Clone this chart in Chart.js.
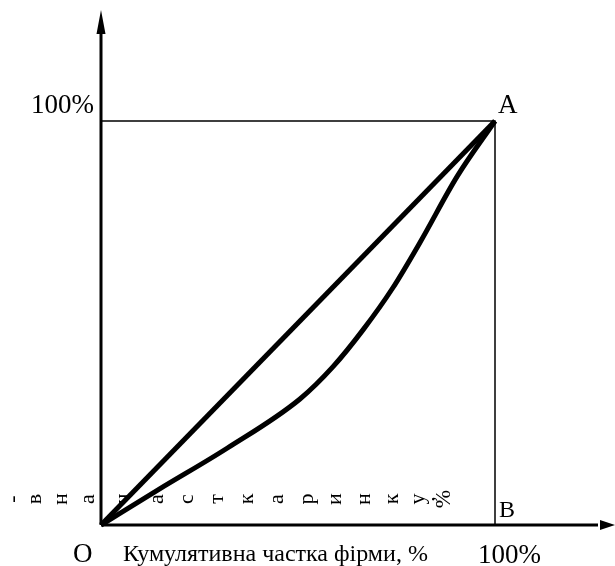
<!DOCTYPE html>
<html>
<head>
<meta charset="utf-8">
<script src="https://cdn.jsdelivr.net/npm/chart.js@4"></script>
<style>
  html, body { margin: 0; padding: 0; background: #fff; }
  #wrap { width: 615px; height: 566px; }
</style>
</head>
<body>
<div id="wrap"><canvas id="lorenz" width="615" height="566"></canvas></div>
<script>
// кумулятивна частка фірм (x) і ринку (y), %
const rivnist = [[0, 0], [100, 100]];
const krivaX = [0, 15, 32, 50.5, 58.9, 66.5, 74, 81, 90.4, 100];
const krivaY = [0, 9, 19, 31.2, 39.2, 48.3, 58.6, 70, 86.3, 100];
const ramka = [[0, 100], [100, 100], [100, 0]];

const pidpysX = "Кумулятивна частка фірми, %";
// вертикальний підпис, що розсипався по літерах уздовж осі
const pidpysY = ["-", "в", "н", "а", "ч", "а", "с", "т", "к", "а", "р", "и", "н", "к", "у", ",", "%"];
const pidpysYx = [13, 35, 61, 88, 123, 157, 187, 217, 247, 277, 307, 335, 364, 392, 418, 428, 444];

const SERIF = '"Liberation Serif", "DejaVu Serif", serif';

function toPts(arr) {
  return arr.map(p => ({ x: p[0], y: p[1] }));
}

// осі зі стрілками та всі підписи
const osi = {
  id: "osi",
  afterDatasetsDraw(chart) {
    const c = chart.ctx;
    const xs = chart.scales.x, ys = chart.scales.y;
    const ox = xs.getPixelForValue(0), oy = ys.getPixelForValue(0);
    const ax = xs.getPixelForValue(100), ay = ys.getPixelForValue(100);
    c.save();
    c.strokeStyle = "#000";
    c.fillStyle = "#000";
    c.lineWidth = 3;
    c.beginPath();
    c.moveTo(ox, oy);
    c.lineTo(ox, 30);
    c.moveTo(ox, oy);
    c.lineTo(598, oy);
    c.stroke();
    // наконечники
    c.beginPath();
    c.moveTo(ox, 10);
    c.lineTo(ox - 4.5, 34);
    c.lineTo(ox + 4.5, 34);
    c.closePath();
    c.fill();
    c.beginPath();
    c.moveTo(615, oy);
    c.lineTo(600, oy - 5);
    c.lineTo(600, oy + 5);
    c.closePath();
    c.fill();

    c.textBaseline = "alphabetic";
    c.font = "27px " + SERIF;
    c.textAlign = "right";
    c.fillText("100%", 94, 113);
    c.textAlign = "left";
    c.fillText("A", ax + 3, ay - 8);
    c.font = "24px " + SERIF;
    c.fillText("B", ax + 4, oy - 8);
    c.font = "27px " + SERIF;
    c.fillText("O", 73, 562);
    c.fillText("100%", 478, 563);
    c.font = "24px " + SERIF;
    c.fillText(pidpysX, 123, 561);

    c.font = "22px " + SERIF;
    c.textAlign = "center";
    c.textBaseline = "middle";
    pidpysY.forEach((ch, i) => {
      c.save();
      c.translate(pidpysYx[i], 499);
      c.rotate(-Math.PI / 2);
      c.fillText(ch, 0, 0);
      c.restore();
    });
    c.restore();
  }
};

new Chart(document.getElementById("lorenz"), {
  type: "scatter",
  data: {
    datasets: [
      {
        data: toPts(ramka),
        showLine: true,
        borderColor: "#000",
        borderWidth: 1.5,
        pointRadius: 0,
      },
      {
        data: toPts(rivnist),
        showLine: true,
        borderColor: "#000",
        borderWidth: 5,
        pointRadius: 0,
      },
      {
        data: krivaX.map((x, i) => ({ x: x, y: krivaY[i] })),
        showLine: true,
        borderColor: "#000",
        borderWidth: 5,
        pointRadius: 0,
        cubicInterpolationMode: "monotone",
      },
    ],
  },
  options: {
    responsive: false,
    devicePixelRatio: 1,
    animation: false,
    clip: false,
    layout: { padding: { left: 101, right: 120, top: 121, bottom: 41 } },
    plugins: { legend: { display: false }, tooltip: { enabled: false } },
    scales: {
      x: { type: "linear", min: 0, max: 100, display: false },
      y: { type: "linear", min: 0, max: 100, display: false },
    },
  },
  plugins: [osi],
});
</script>
</body>
</html>
